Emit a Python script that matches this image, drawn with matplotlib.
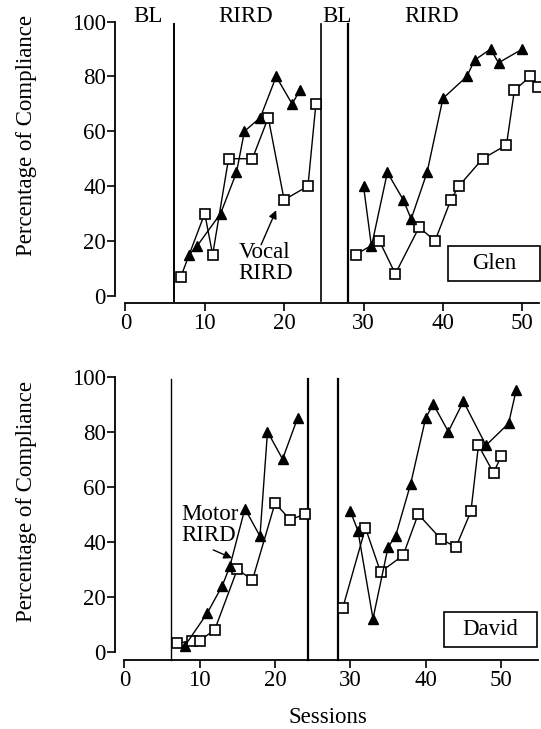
import matplotlib.pyplot as plt
from matplotlib.patches import Rectangle

plt.rcParams["font.family"] = ["Liberation Serif", "DejaVu Serif"]
plt.rcParams["font.size"] = 16.5

# Glen (top panel)
glen_sq_x1 = [7, 10, 11, 13, 16, 18, 20, 23, 24]
glen_sq_y1 = [7, 30, 15, 50, 50, 65, 35, 40, 70]
glen_tri_x1 = [8, 9, 12, 14, 15, 17, 19, 21, 22]
glen_tri_y1 = [15, 18, 30, 45, 60, 65, 80, 70, 75]
glen_sq_x2 = [29, 32, 34, 37, 39, 41, 42, 45, 48, 49, 51, 52]
glen_sq_y2 = [15, 20, 8, 25, 20, 35, 40, 50, 55, 75, 80, 76]
glen_tri_x2 = [30, 31, 33, 35, 36, 38, 40, 43, 44, 46, 47, 50]
glen_tri_y2 = [40, 18, 45, 35, 28, 45, 72, 80, 86, 90, 85, 90]

# David (bottom panel)
david_sq_x1 = [7, 9, 10, 12, 15, 17, 20, 22, 24]
david_sq_y1 = [3, 4, 4, 8, 30, 26, 54, 48, 50]
david_tri_x1 = [8, 11, 13, 14, 16, 18, 19, 21, 23]
david_tri_y1 = [2, 14, 24, 31, 52, 42, 80, 70, 85]
david_sq_x2 = [29, 32, 34, 37, 39, 42, 44, 46, 47, 49, 50]
david_sq_y2 = [16, 45, 29, 35, 50, 41, 38, 51, 75, 65, 71]
david_tri_x2 = [30, 31, 33, 35, 36, 38, 40, 41, 43, 45, 48, 51, 52]
david_tri_y2 = [51, 44, 12, 38, 42, 61, 85, 90, 80, 91, 75, 83, 95]

# phase change lines
glen_phase = [6.13, 24.7, 28.05]
david_phase = [6.24, 24.4, 28.3]

yticks = [0, 20, 40, 60, 80, 100]
xticks = [0, 10, 20, 30, 40, 50]

fig = plt.figure(figsize=(5.41, 7.29), dpi=100)

# pixel boxes -> figure fractions
ax1 = fig.add_axes([115/541, (729-303)/729, 426/541, 288/729])
ax2 = fig.add_axes([115/541, (729-660)/729, 426/541, 290/729])


def style(ax, xmin, xmax, ymin, ymax, spine_end, label_y):
    ax.set_xlim(xmin, xmax)
    ax.set_ylim(ymin, ymax)
    ax.spines["top"].set_visible(False)
    ax.spines["right"].set_visible(False)
    ax.spines["left"].set_bounds(0, 100)
    ax.spines["bottom"].set_bounds(0, spine_end)
    for s in ["left", "bottom"]:
        ax.spines[s].set_linewidth(1.3)
    ax.set_yticks(yticks)
    ax.set_xticks(xticks)
    ax.tick_params(axis="y", direction="out", length=5.5, width=1.2, pad=1)
    ax.tick_params(axis="x", direction="out", length=5.5, width=1.2, pad=2)
    ax.set_ylabel("Percentage of Compliance")
    ax.yaxis.set_label_coords(-0.183, label_y)


def series(ax, x, y, kind):
    if kind == "sq":
        ax.plot(x, y, color="black", lw=1.0, marker="s", markersize=7,
                markerfacecolor="white", markeredgecolor="black",
                markeredgewidth=1.2, clip_on=False, zorder=3)
    else:
        ax.plot(x, y, color="black", lw=1.0, marker="^", markersize=7.5,
                markerfacecolor="black", markeredgecolor="black",
                clip_on=False, zorder=3)


arrow = dict(arrowstyle="-|>", color="black", lw=1.0,
             shrinkA=0, shrinkB=0, mutation_scale=12)

# ---- top panel (Glen)
style(ax1, -1.30, 52.35, -2.65, 102.44, 52.1, 0.583)
series(ax1, glen_sq_x1, glen_sq_y1, "sq")
series(ax1, glen_tri_x1, glen_tri_y1, "tri")
series(ax1, glen_sq_x2, glen_sq_y2, "sq")
series(ax1, glen_tri_x2, glen_tri_y2, "tri")
for xp, w in zip(glen_phase, [1.4, 1.2, 1.6]):
    ax1.plot([xp, xp], [-1.9, 99.3], color="black", lw=w, clip_on=False)

for lab, xp in zip(["BL", "RIRD", "BL", "RIRD"], [2.9, 15.1, 26.6, 38.6]):
    ax1.text(xp, 102, lab, ha="center", va="center", clip_on=False)

ax1.add_patch(Rectangle((40.6, 5.5), 11.6, 12.6, fill=False, lw=1.2,
                        edgecolor="black", clip_on=False))
ax1.text(46.4, 11.8, "Glen", ha="center", va="center")
ax1.text(14.23, 12.0, "Vocal\nRIRD", ha="left", va="center", linespacing=1.0)
ax1.annotate("", xy=(19.0, 31.2), xytext=(17.1, 18.6), arrowprops=arrow)

# ---- bottom panel (David)
style(ax2, -1.24, 55.3, -3.02, 102.4, 54.9, 0.548)
series(ax2, david_sq_x1, david_sq_y1, "sq")
series(ax2, david_tri_x1, david_tri_y1, "tri")
series(ax2, david_sq_x2, david_sq_y2, "sq")
series(ax2, david_tri_x2, david_tri_y2, "tri")
for xp, w in zip(david_phase, [1.0, 1.6, 1.6]):
    ax2.plot([xp, xp], [-3.0, 99.2], color="black", lw=w, clip_on=False)

ax2.add_patch(Rectangle((42.46, 1.8), 12.31, 12.5, fill=False, lw=1.2,
                        edgecolor="black", clip_on=False))
ax2.text(48.6, 8.05, "David", ha="center", va="center")
ax2.text(7.62, 46.2, "Motor\nRIRD", ha="left", va="center", linespacing=1.0)
ax2.annotate("", xy=(14.3, 34.0), xytext=(11.8, 37.0), arrowprops=arrow)
ax2.set_xlabel("Sessions", labelpad=11)

fig.savefig("out.png", dpi=100)
